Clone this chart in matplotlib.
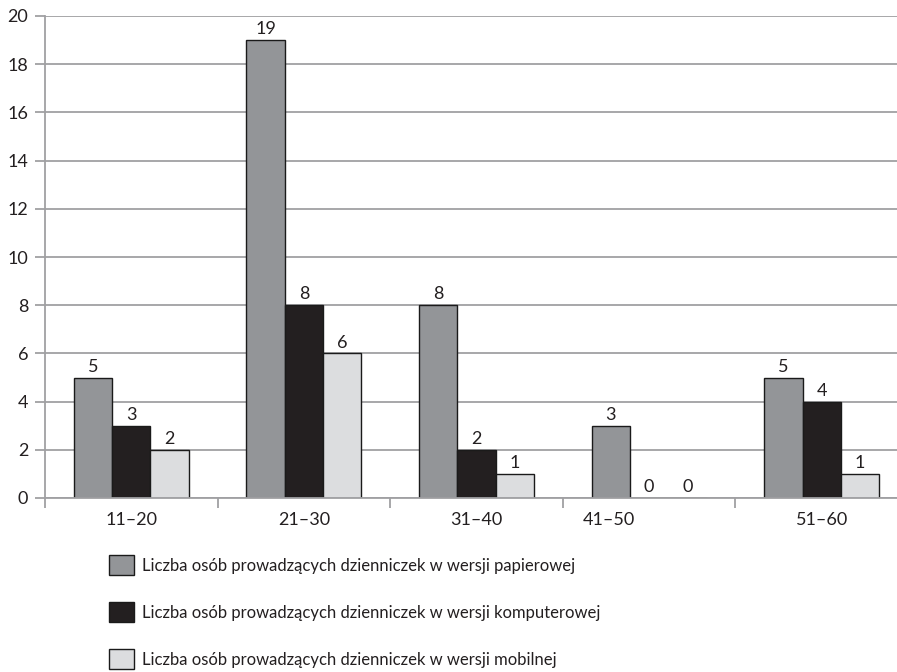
import numpy as np
import matplotlib
matplotlib.use("Agg")
import matplotlib.pyplot as plt
import matplotlib.transforms as mtransforms

plt.rcParams['font.family'] = ['Lato', 'DejaVu Sans']

groups = ["11–20", "21–30", "31–40", "41–50", "51–60"]
papier = [5, 19, 8, 3, 5]
komputer = [3, 8, 2, 0, 4]
mobil = [2, 6, 1, 0, 1]
labels = [
    "Liczba osób prowadzących dzienniczek w wersji papierowej",
    "Liczba osób prowadzących dzienniczek w wersji komputerowej",
    "Liczba osób prowadzących dzienniczek w wersji mobilnej",
]
colors = ["#939598", "#231f20", "#dcdddf"]

fig = plt.figure(figsize=(8.97, 6.72), dpi=100)
ax = fig.add_axes([45 / 897, 174 / 672, 863 / 897, 482 / 672])

x = np.arange(len(groups))
w = 0.222
for i, vals in enumerate([papier, komputer, mobil]):
    bars = ax.bar(x + (i - 1) * w, vals, w, color=colors[i], edgecolor="#1a1a1a",
                  linewidth=1, label=labels[i], zorder=3)
    ax.bar_label(bars, padding=2, fontsize=13, color="#231f20")

ax.set_ylim(0, 20)
ax.set_yticks(range(0, 21, 2))
ax.set_xlim(-0.5, len(groups) - 0.5)
ax.grid(axis="y", color="#a0a0a3", linewidth=1.3, zorder=0)
for s in ["top", "right"]:
    ax.spines[s].set_visible(False)
for s in ["left", "bottom"]:
    ax.spines[s].set_color("#a0a0a3")
    ax.spines[s].set_linewidth(1.3)
    ax.spines[s].set_zorder(4)

ax.set_xticks(x)
ax.set_xticklabels(groups)
ax.set_xticks(np.arange(-0.5, len(groups), 1), minor=True)
ax.tick_params(axis="x", which="major", length=0, pad=10, labelsize=13, labelcolor="#231f20")
ax.tick_params(axis="x", which="minor", length=7, width=1.3, color="#a0a0a3")
ax.tick_params(axis="y", length=7, width=1.3, color="#a0a0a3", pad=5, labelsize=13, labelcolor="#231f20")

# "41–50" sits left of its category centre in the original
lab = ax.get_xticklabels()[3]
lab.set_transform(lab.get_transform() + mtransforms.ScaledTranslation(-40 / 100, 0, fig.dpi_scale_trans))

fig.legend(loc="upper left", bbox_to_anchor=(94 / 897, 1 - 540 / 672), frameon=False,
           fontsize=12, handlelength=1.5, handleheight=1.5, labelspacing=1.6,
           handletextpad=0.5, labelcolor="#231f20")

fig.savefig("out.png", dpi=100)
